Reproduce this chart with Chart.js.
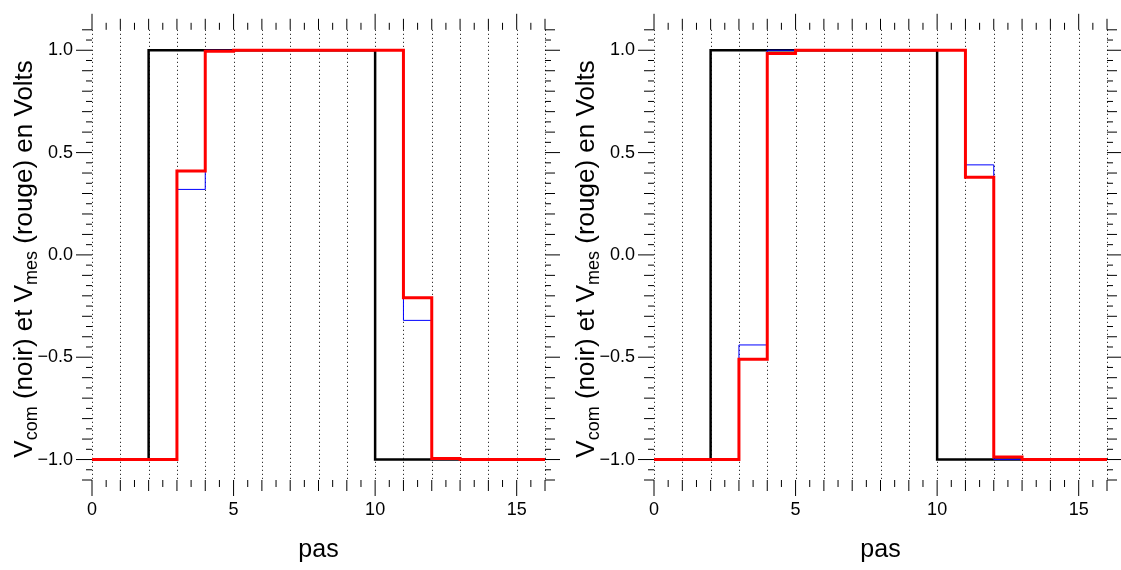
<!DOCTYPE html>
<html>
<head>
<meta charset="utf-8">
<script src="https://cdn.jsdelivr.net/npm/chart.js@4/dist/chart.umd.min.js"></script>
<style>
  body { margin: 0; background: #fff; overflow: hidden; width: 1121px; height: 570px; position: relative; }
  .panel { position: absolute; top: 0; width: 560px; height: 570px; }
</style>
</head>
<body>
<div class="panel" style="left:0"><canvas id="c1" width="560" height="570"></canvas></div>
<div class="panel" style="left:562px"><canvas id="c2" width="560" height="570"></canvas></div>
<script>
// pas (steps) and voltages, one value per step (last repeats to close the step)
var pas = [0,1,2,3,4,5,6,7,8,9,10,11,12,13,14,15,16];
var vcom = [-1,-1,1,1,1,1,1,1,1,1,-1,-1,-1,-1,-1,-1,-1];
// left panel
var vmesA = [-1,-1,-1,0.41,0.995,1,1,1,1,1,1,-0.21,-0.995,-1,-1,-1,-1];
var vsimA = [-1,-1,-1,0.32,1,1,1,1,1,1,1,-0.32,-1,-1,-1,-1,-1];
// right panel
var vmesB = [-1,-1,-1,-0.51,0.984,1,1,1,1,1,1,0.38,-0.987,-1,-1,-1,-1];
var vsimB = [-1,-1,-1,-0.44,1,1,1,1,1,1,1,0.44,-1,-1,-1,-1,-1];

var xTicks = [0,5,10,15];
var yTicks = [-1,-0.5,0,0.5,1];

var FONT = "'Liberation Sans', Arial, sans-serif";
Chart.defaults.font.family = FONT;
Chart.defaults.color = '#000';

function pts(arr) {
  return pas.map(function(x, i) { return {x: x, y: arr[i]}; });
}

function line(ctx, x1, y1, x2, y2) {
  ctx.beginPath(); ctx.moveTo(x1, y1); ctx.lineTo(x2, y2); ctx.stroke();
}

// dotted grid, tick frame and y title (with subscripts)
var igorFrame = {
  id: 'igorFrame',
  beforeDatasetsDraw: function(chart) {
    var ctx = chart.ctx, a = chart.chartArea, x = chart.scales.x;
    ctx.save();
    ctx.strokeStyle = '#000';
    ctx.lineWidth = 1;
    ctx.setLineDash([1, 3]);
    for (var i = 0; i <= 16; i++) {
      var px = Math.round(x.getPixelForValue(i)) + 0.5;
      line(ctx, px, a.top, px, a.bottom);
    }
    ctx.restore();
  },
  afterDraw: function(chart) {
    var ctx = chart.ctx, a = chart.chartArea, x = chart.scales.x, y = chart.scales.y;
    ctx.save();
    ctx.strokeStyle = '#000';
    ctx.lineWidth = 1;
    for (var k = 0; k <= 32; k++) {
      var px = x.getPixelForValue(k / 2);
      var len = (k % 10 === 0) ? 16 : (k % 2 === 0 ? 11 : 7);
      line(ctx, px, a.bottom, px, a.bottom + len);
      line(ctx, px, a.top, px, a.top - len);
    }
    for (var j = -22; j <= 22; j++) {
      var py = y.getPixelForValue(j / 20);
      var l = (j % 10 === 0) ? 16 : (j % 2 === 0 ? 10 : 6);
      line(ctx, a.left - l, py, a.left, py);
      line(ctx, a.right, py, a.right + l, py);
    }
    // y title
    var parts = [['V', 26, 0], ['com', 18, 5], [' (noir) et V', 26, 0], ['mes', 18, 5], [' (rouge) en Volts', 26, 0]];
    var total = 0;
    parts.forEach(function(p) { ctx.font = p[1] + 'px ' + FONT; p.push(ctx.measureText(p[0]).width); total += p[3]; });
    ctx.translate(32, (a.top + a.bottom) / 2 + 4);
    ctx.rotate(-Math.PI / 2);
    ctx.fillStyle = '#000';
    ctx.textAlign = 'left';
    ctx.textBaseline = 'alphabetic';
    var cx = -total / 2;
    parts.forEach(function(p) {
      ctx.font = p[1] + 'px ' + FONT;
      ctx.fillText(p[0], cx, p[2]);
      cx += p[3];
    });
    ctx.restore();
  }
};

function makeChart(id, vmes, vsim) {
  return new Chart(document.getElementById(id), {
    type: 'line',
    data: {
      datasets: [
        { label: 'Vmes', data: pts(vmes), borderColor: '#ff0000', borderWidth: 3, stepped: true, pointRadius: 0, fill: false },
        { label: 'Vsim', data: pts(vsim), borderColor: '#0000ff', borderWidth: 1, stepped: true, pointRadius: 0, fill: false },
        { label: 'Vcom', data: pts(vcom), borderColor: '#000000', borderWidth: 2.5, stepped: true, pointRadius: 0, fill: false }
      ]
    },
    options: {
      responsive: false,
      animation: false,
      layout: { padding: { top: 28, right: 15, bottom: 0, left: 0 } },
      plugins: { legend: { display: false }, tooltip: { enabled: false } },
      scales: {
        x: {
          type: 'linear', min: 0, max: 16,
          afterBuildTicks: function(s) { s.ticks = xTicks.map(function(v) { return {value: v}; }); },
          ticks: { font: { size: 18 }, color: '#000', padding: 19, maxRotation: 0 },
          grid: { display: false, drawTicks: false },
          border: { display: false },
          title: { display: true, text: 'pas', font: { size: 25 }, color: '#000', padding: { top: 0, bottom: 5 } },
          afterFit: function(s) { s.height = 90; }
        },
        y: {
          type: 'linear', min: -1.1, max: 1.1,
          afterBuildTicks: function(s) { s.ticks = yTicks.map(function(v) { return {value: v}; }); },
          ticks: {
            font: { size: 18 }, color: '#000', padding: 19,
            callback: function(v) { return (v < 0 ? '\u2212' : '') + Math.abs(v).toFixed(1); }
          },
          grid: { display: false, drawTicks: false },
          border: { display: false },
          afterFit: function(s) { s.width = 92; }
        }
      }
    },
    plugins: [igorFrame]
  });
}

makeChart('c1', vmesA, vsimA);
makeChart('c2', vmesB, vsimB);
</script>
</body>
</html>
